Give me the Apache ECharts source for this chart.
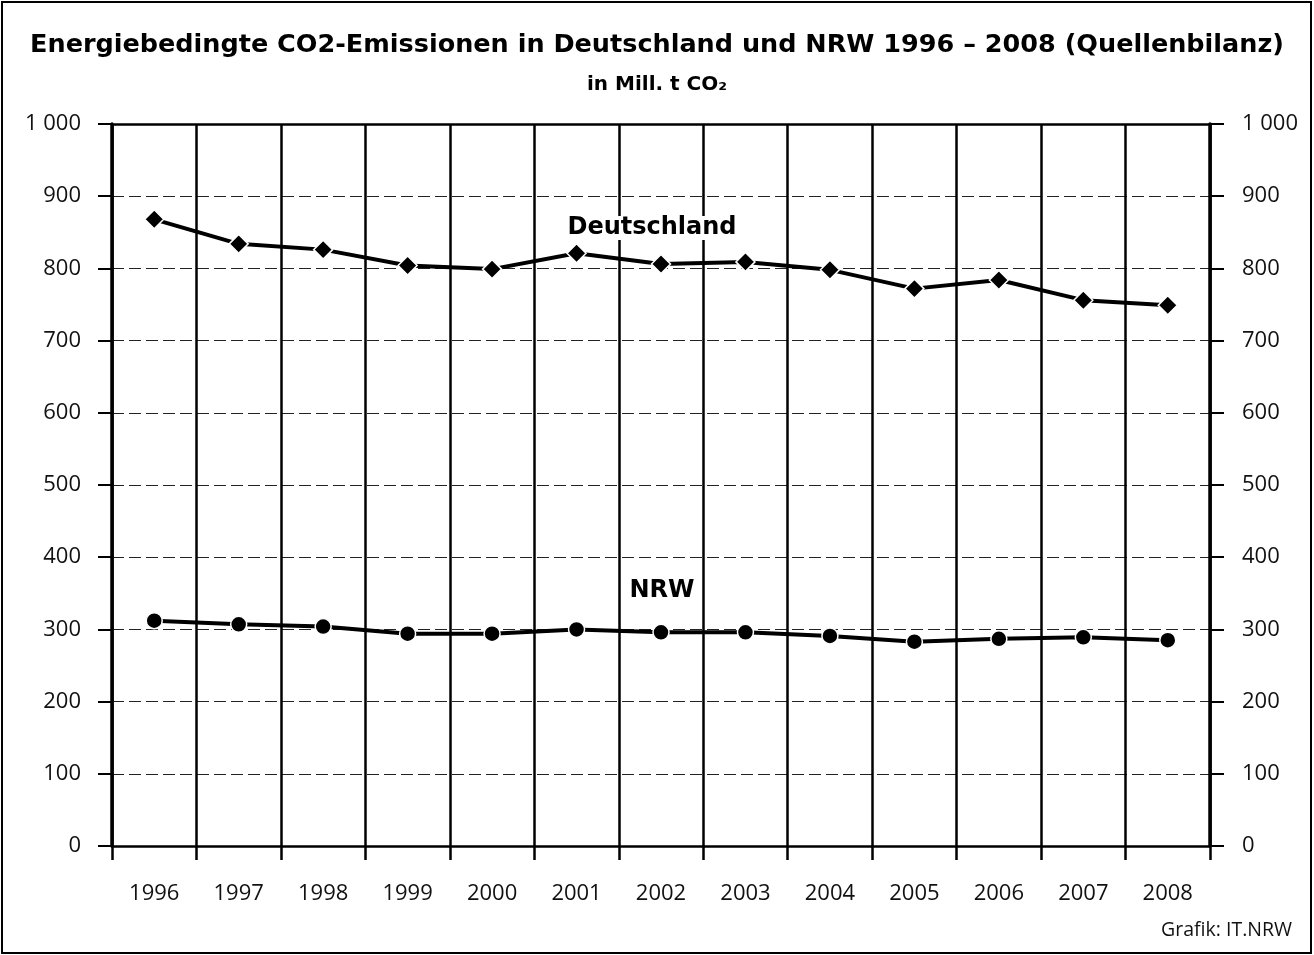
<!DOCTYPE html>
<html>
<head>
<meta charset="utf-8">
<script src="https://cdn.jsdelivr.net/npm/echarts@6/dist/echarts.min.js"></script>
<style>
  html, body { margin: 0; padding: 0; background: #fff; }
  #chart { width: 1314px; height: 955px; }
</style>
</head>
<body>
<div id="chart"></div>
<script>
const years = ['1996', '1997', '1998', '1999', '2000', '2001', '2002', '2003', '2004', '2005', '2006', '2007', '2008'];
const deutschland = [868, 834, 826, 804, 799, 821, 806, 809, 798, 772, 784, 756, 749];
const nrw = [312, 307, 304, 294, 294, 300, 296, 296, 291, 283, 287, 289, 285];
const yTicks = [0, 100, 200, 300, 400, 500, 600, 700, 800, 900, 1000];

const FONT = '"Open Sans", "Noto Sans", sans-serif';
const BOLD = '"DejaVu Sans", "Open Sans", sans-serif';

// Tausender mit Leerzeichen trennen
const fmt = (v) => String(v).replace(/\B(?=(\d{3})+(?!\d))/g, ' ');

const yAxisBase = (pos) => ({
  type: 'value',
  position: pos,
  min: yTicks[0],
  max: yTicks[yTicks.length - 1],
  interval: 100,
  axisLine: { show: true, lineStyle: { color: '#000', width: 3.5 } },
  axisTick: { show: true, length: 14, lineStyle: { color: '#000', width: 2 } },
  axisLabel: {
    margin: pos === 'left' ? 31 : 32,
    color: '#111',
    fontFamily: FONT,
    fontSize: 22,
    formatter: fmt
  },
  splitLine: {
    show: pos === 'left',
    lineStyle: { color: '#222', width: 1, type: [12, 5] }
  }
});

const chart = echarts.init(document.getElementById('chart'));

chart.setOption({
  backgroundColor: '#fff',
  animation: false,
  title: [
    {
      text: 'Energiebedingte CO2-Emissionen in Deutschland und NRW 1996 – 2008 (Quellenbilanz)',
      left: 'center',
      top: 32,
      padding: 0,
      textStyle: { fontFamily: BOLD, fontSize: 25.5, fontWeight: 'bold', color: '#000' }
    },
    {
      text: 'in Mill. t CO₂',
      left: 'center',
      top: 75,
      padding: 0,
      textStyle: { fontFamily: BOLD, fontSize: 20, fontWeight: 'bold', color: '#000' }
    }
  ],
  grid: { left: 112, right: 104, top: 124, bottom: 109, containLabel: false },
  xAxis: [
    {
      type: 'category',
      data: years,
      boundaryGap: true,
      axisLine: { show: true, onZero: false, lineStyle: { color: '#000', width: 2.5 } },
      axisTick: { show: true, interval: 0, length: 14, lineStyle: { color: '#000', width: 2.5 } },
      axisLabel: { interval: 0, margin: 37, color: '#111', fontFamily: FONT, fontSize: 22 },
      splitLine: { show: true, interval: 0, lineStyle: { color: '#000', width: 2.5 } }
    },
    {
      type: 'category',
      data: years,
      position: 'top',
      axisLine: { show: true, onZero: false, lineStyle: { color: '#000', width: 2.5 } },
      axisTick: { show: false },
      axisLabel: { show: false },
      splitLine: { show: false }
    }
  ],
  yAxis: [yAxisBase('left'), yAxisBase('right')],
  series: [
    {
      name: 'Deutschland',
      type: 'line',
      data: deutschland,
      symbol: 'diamond',
      symbolSize: 19,
      lineStyle: { color: '#000', width: 4 },
      itemStyle: { color: '#000', borderColor: '#fff', borderWidth: 1.5 },
      z: 5
    },
    {
      name: 'NRW',
      type: 'line',
      data: nrw,
      symbol: 'circle',
      symbolSize: 16,
      lineStyle: { color: '#000', width: 4 },
      itemStyle: { color: '#000', borderColor: '#fff', borderWidth: 1.5 },
      z: 5
    }
  ],
  graphic: [
    {
      type: 'rect',
      shape: { x: 2, y: 2, width: 1309, height: 951 },
      style: { fill: 'none', stroke: '#000', lineWidth: 2 },
      silent: true
    },
    {
      type: 'text',
      x: 652, y: 228,
      style: {
        text: 'Deutschland', align: 'center', verticalAlign: 'middle',
        font: 'bold 24px ' + BOLD, fill: '#000', backgroundColor: '#fff'
      },
      z: 10
    },
    {
      type: 'text',
      x: 662, y: 591,
      style: {
        text: 'NRW', align: 'center', verticalAlign: 'middle',
        font: 'bold 24px ' + BOLD, fill: '#000', backgroundColor: '#fff'
      },
      z: 10
    },
    {
      type: 'text',
      right: 22, top: 920,
      style: { text: 'Grafik: IT.NRW', font: '19.5px ' + FONT, fill: '#111' }
    }
  ]
});
</script>
</body>
</html>
